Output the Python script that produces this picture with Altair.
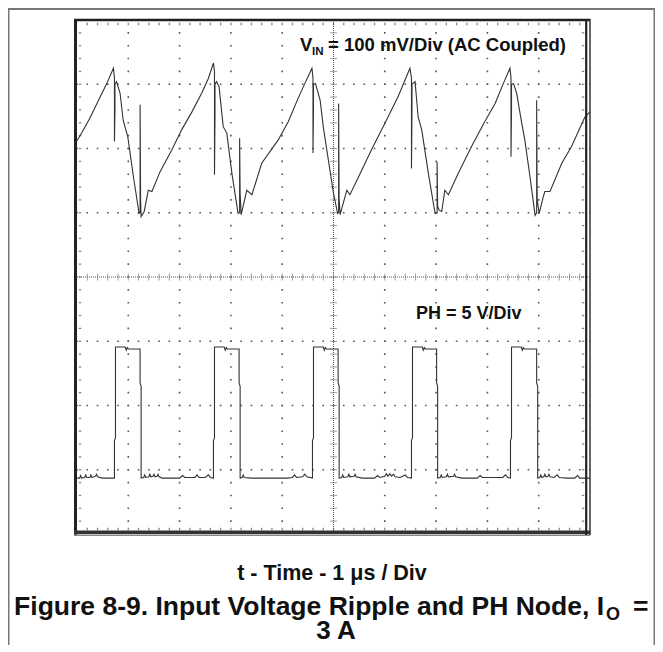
import altair as alt
import pandas as pd

# ---------------- data (time in µs, 1 µs/div; vertical in screen divisions, centre = 0)
vin_trace = [
    (0.00, 2.12), (0.09, 2.24), (0.25, 2.47), (0.42, 2.75), (0.58, 3.01), (0.71, 3.25),
    (0.73, 3.10), (0.73, 2.11), (0.74, 2.60), (0.74, 3.00), (0.77, 3.04),
    (0.84, 2.86), (0.90, 2.44), (0.99, 2.18), (1.10, 1.56), (1.21, 0.99),
    (1.23, 1.00), (1.23, 2.68), (1.24, 1.20), (1.25, 0.94),
    (1.31, 1.02), (1.39, 1.35), (1.46, 1.33), (1.62, 1.64), (1.85, 1.98), (2.04, 2.29),
    (2.24, 2.57), (2.43, 2.86), (2.56, 3.09), (2.66, 3.33),
    (2.68, 3.20), (2.68, 1.59), (2.69, 2.50), (2.69, 3.00), (2.72, 3.04),
    (2.77, 2.96), (2.85, 2.34), (2.92, 2.24), (3.02, 1.61), (3.14, 0.99),
    (3.17, 1.00), (3.17, 2.16), (3.18, 1.30), (3.20, 0.97),
    (3.31, 1.35), (3.41, 1.28), (3.60, 1.77), (3.92, 2.13), (4.12, 2.42), (4.31, 2.78),
    (4.44, 3.01), (4.58, 3.25),
    (4.60, 3.10), (4.60, 1.93), (4.61, 2.60), (4.61, 3.00), (4.65, 3.01),
    (4.74, 2.75), (4.80, 2.34), (4.90, 1.82), (5.00, 1.30), (5.08, 0.99),
    (5.10, 1.00), (5.10, 2.70), (5.11, 1.20), (5.13, 0.97),
    (5.19, 1.15), (5.26, 1.35), (5.32, 1.28), (5.52, 1.61), (5.74, 1.98), (6.00, 2.39),
    (6.26, 2.81), (6.49, 3.25),
    (6.52, 3.10), (6.52, 1.69), (6.53, 2.60), (6.53, 3.00), (6.59, 3.04),
    (6.65, 2.49), (6.72, 2.29), (6.85, 1.61), (6.98, 0.99),
    (7.02, 1.00), (7.02, 1.79), (7.03, 1.10), (7.06, 1.04),
    (7.11, 1.02), (7.17, 1.35), (7.24, 1.28), (7.43, 1.61), (7.69, 2.03), (7.95, 2.42),
    (8.15, 2.70), (8.31, 3.01), (8.44, 3.25),
    (8.46, 3.10), (8.46, 1.87), (8.47, 2.60), (8.47, 3.00), (8.51, 3.01),
    (8.57, 2.86), (8.67, 2.39), (8.73, 2.13), (8.83, 1.56), (8.93, 0.96),
    (8.96, 1.00), (8.96, 2.75), (8.97, 1.20), (9.01, 0.99),
    (9.09, 1.25), (9.12, 1.33), (9.22, 1.33), (9.45, 1.77), (9.64, 2.03), (9.90, 2.49),
    (10.0, 2.57),
]

ph_trace = [
    (0.00, -3.13), (0.05, -3.13), (0.07, -3.09), (0.09, -3.13), (0.15, -3.12), (0.17, -3.08),
    (0.19, -3.12), (0.25, -3.12), (0.27, -3.08), (0.29, -3.12), (0.36, -3.10), (0.38, -3.07),
    (0.40, -3.11), (0.50, -3.13), (0.73, -3.13),
    (0.73, -2.55), (0.75, -2.50), (0.75, -1.09),
    (0.94, -1.09), (0.96, -1.14), (0.98, -1.10), (1.00, -1.12), (1.23, -1.12),
    (1.23, -1.65), (1.25, -1.70), (1.25, -3.13),
    (1.30, -3.12), (1.32, -3.08), (1.34, -3.12), (1.40, -3.11), (1.42, -3.07), (1.44, -3.11),
    (1.48, -3.10), (1.50, -3.07), (1.52, -3.11), (1.56, -3.10), (1.58, -3.07), (1.60, -3.11),
    (1.66, -3.13), (2.00, -3.13), (2.06, -3.09), (2.10, -3.12), (2.30, -3.12), (2.34, -3.08),
    (2.38, -3.12), (2.50, -3.12), (2.56, -3.08), (2.60, -3.12), (2.66, -3.13),
    (2.66, -2.55), (2.68, -2.50), (2.68, -1.09),
    (2.87, -1.09), (2.89, -1.14), (2.91, -1.10), (2.93, -1.12), (3.16, -1.12),
    (3.16, -1.65), (3.18, -1.70), (3.18, -3.13),
    (3.22, -3.12), (3.24, -3.08), (3.26, -3.12), (3.40, -3.13), (3.90, -3.13), (4.10, -3.13),
    (4.20, -3.12), (4.24, -3.08), (4.28, -3.12), (4.40, -3.11), (4.44, -3.07), (4.48, -3.11),
    (4.59, -3.13),
    (4.59, -2.55), (4.61, -2.50), (4.61, -1.09),
    (4.80, -1.09), (4.82, -1.14), (4.84, -1.10), (4.86, -1.12), (5.09, -1.12),
    (5.09, -1.65), (5.11, -1.70), (5.11, -3.13),
    (5.16, -3.12), (5.18, -3.08), (5.20, -3.12), (5.28, -3.11), (5.30, -3.07), (5.32, -3.11),
    (5.40, -3.10), (5.42, -3.07), (5.44, -3.11), (5.56, -3.13), (5.80, -3.13), (5.86, -3.09),
    (5.90, -3.12), (6.00, -3.10), (6.03, -3.06), (6.06, -3.10), (6.10, -3.06), (6.13, -3.10),
    (6.17, -3.07), (6.20, -3.11), (6.30, -3.12), (6.40, -3.08), (6.44, -3.12), (6.52, -3.13),
    (6.52, -2.55), (6.54, -2.50), (6.54, -1.09),
    (6.73, -1.09), (6.75, -1.14), (6.77, -1.10), (6.79, -1.12), (7.01, -1.12),
    (7.01, -1.65), (7.03, -1.70), (7.03, -3.13),
    (7.08, -3.12), (7.10, -3.08), (7.12, -3.12), (7.20, -3.11), (7.22, -3.07), (7.24, -3.11),
    (7.34, -3.10), (7.36, -3.07), (7.38, -3.11), (7.50, -3.13), (7.80, -3.13), (7.86, -3.09),
    (7.90, -3.12), (8.10, -3.12), (8.30, -3.12), (8.35, -3.08), (8.40, -3.12), (8.45, -3.13),
    (8.45, -2.55), (8.47, -2.50), (8.47, -1.09),
    (8.66, -1.09), (8.68, -1.14), (8.70, -1.10), (8.72, -1.12), (8.96, -1.12),
    (8.96, -1.65), (8.98, -1.70), (8.98, -3.13),
    (9.02, -3.12), (9.04, -3.08), (9.06, -3.12), (9.10, -3.11), (9.12, -3.07), (9.14, -3.11),
    (9.18, -3.10), (9.20, -3.07), (9.22, -3.11), (9.30, -3.12), (9.36, -3.08), (9.40, -3.12),
    (9.56, -3.13), (9.70, -3.13), (9.76, -3.09), (9.80, -3.13), (10.0, -3.13),
]

grid_t = [1, 2, 3, 4, 6, 7, 8, 9]
grid_v = [-3, -2, -1, 1, 2, 3]
minor_t = [round(0.2 * i, 1) for i in range(1, 50)]
minor_v = [round(-4 + 0.2 * i, 1) for i in range(1, 40)]

# ---------------- layout
W, H = 513, 514
PAD_L, PAD_T, PAD_R, PAD_B = 69, 12, 65, 111
TOTAL_W = PAD_L + W + PAD_R
TOTAL_H = PAD_T + H + PAD_B
FONT = "Liberation Sans"
INK = "#333333"

xs = alt.Scale(domain=[0, 10], nice=False, zero=False)
ys = alt.Scale(domain=[-4, 4], nice=False, zero=False)


def X(f):
    return alt.X(f, type="quantitative", scale=xs, axis=None)


def Y(f):
    return alt.Y(f, type="quantitative", scale=ys, axis=None)


vin_df = pd.DataFrame(vin_trace, columns=["t", "v"]).reset_index()
ph_df = pd.DataFrame(ph_trace, columns=["t", "v"]).reset_index()

one = pd.DataFrame({"k": [0]})

hgrid = alt.Chart(pd.DataFrame({"v": grid_v})).mark_rule(
    color="#555555", strokeWidth=1.6, strokeDash=[1.6, 8.66], strokeDashOffset=0.8
).encode(y=Y("v"), x=alt.value(0), x2=alt.value(W))

vgrid = alt.Chart(pd.DataFrame({"t": grid_t})).mark_rule(
    color="#555555", strokeWidth=1.6, strokeDash=[1.6, 11.25], strokeDashOffset=0.8
).encode(x=X("t"), y=alt.value(0), y2=alt.value(H))

hcenter = alt.Chart(pd.DataFrame({"v": [0]})).mark_rule(
    color="#555555", strokeWidth=1, strokeDash=[1, 1]
).encode(y=Y("v"), x=alt.value(0), x2=alt.value(W))

vcenter = alt.Chart(pd.DataFrame({"t": [5]})).mark_rule(
    color="#555555", strokeWidth=1, strokeDash=[1, 1]
).encode(x=X("t"), y=alt.value(0), y2=alt.value(H))

hticks = alt.Chart(pd.DataFrame({"t": minor_t})).mark_tick(
    orient="vertical", size=7, thickness=1, color="#777777"
).encode(x=X("t"), y=alt.value(H / 2))

vticks = alt.Chart(pd.DataFrame({"v": minor_v})).mark_tick(
    orient="horizontal", size=7, thickness=1, color="#777777"
).encode(y=Y("v"), x=alt.value(W / 2))

top_ticks = alt.Chart(pd.DataFrame({"t": minor_t})).mark_tick(
    orient="vertical", size=2.5, thickness=1.3, color="#555555"
).encode(x=X("t"), y=alt.value(4))

bot_ticks = alt.Chart(pd.DataFrame({"t": minor_t})).mark_tick(
    orient="vertical", size=2.5, thickness=1.3, color="#555555"
).encode(x=X("t"), y=alt.value(H - 5))

left_ticks = alt.Chart(pd.DataFrame({"v": minor_v})).mark_tick(
    orient="horizontal", size=2.5, thickness=1.3, color="#555555"
).encode(y=Y("v"), x=alt.value(3))

right_ticks = alt.Chart(pd.DataFrame({"v": minor_v})).mark_tick(
    orient="horizontal", size=2.5, thickness=1.3, color="#555555"
).encode(y=Y("v"), x=alt.value(W - 7))

vin_line = alt.Chart(vin_df).mark_line(color=INK, strokeWidth=1.1).encode(
    x=X("t"), y=Y("v"), order="index:Q"
)
ph_line = alt.Chart(ph_df).mark_line(color=INK, strokeWidth=1.1).encode(
    x=X("t"), y=Y("v"), order="index:Q"
)


def hline(y, x1, x2, w, c):
    return alt.Chart(one).mark_rule(color=c, strokeWidth=w).encode(
        y=alt.value(y), x=alt.value(x1), x2=alt.value(x2)
    )


def vline(x, y1, y2, w, c):
    return alt.Chart(one).mark_rule(color=c, strokeWidth=w).encode(
        x=alt.value(x), y=alt.value(y1), y2=alt.value(y2)
    )


frame = [
    hline(0, -3, W, 2.5, "#222222"),
    vline(-1.5, -1, H + 2, 3, "#222222"),
    hline(H - 1.7, -3, W, 3.6, "#333333"),
    hline(H + 1.3, -3, W, 1.5, "#888888"),
    vline(W - 3.8, -1, H + 1, 2.2, "#222222"),
    vline(W, -1, H + 1, 1.5, "#333333"),
    # outer figure border
    hline(-PAD_T + 1, -PAD_L, TOTAL_W - PAD_L, 2, "#777777"),
    vline(-PAD_L + 0.75, -PAD_T, TOTAL_H - PAD_T, 1.5, "#777777"),
    vline(TOTAL_W - PAD_L - 0.75, -PAD_T, TOTAL_H - PAD_T, 1.5, "#777777"),
]


def txt(s, x, y, size, align="left"):
    return alt.Chart(one).mark_text(
        text=s, font=FONT, fontWeight="bold", fontSize=size, align=align,
        baseline="alphabetic", color="#111111"
    ).encode(x=alt.value(x), y=alt.value(y))


texts = [
    txt("V", 223, 31, 18.5),
    txt("IN", 235, 35, 11.5),
    txt("= 100 mV/Div (AC Coupled)", 251, 31, 18.5),
    txt("PH = 5 V/Div", 339, 299, 18),
    txt("t - Time - 1 \u03bcs / Div", 255, 560, 21.5, "center"),
    txt("Figure 8-9. Input Voltage Ripple and PH Node, I", 527, 595, 26.5, "right"),
    txt("O", 529, 600, 18),
    txt("=", 556, 595, 26.5),
    txt("3 A", 259, 619, 26, "center"),
]

layers = [hgrid, vgrid, hcenter, vcenter, hticks, vticks, top_ticks, bot_ticks,
          left_ticks, right_ticks, vin_line, ph_line] + frame + texts

chart = alt.layer(*layers).properties(
    width=W, height=H,
    autosize=alt.AutoSizeParams(type="none"),
    padding={"left": PAD_L, "top": PAD_T, "right": PAD_R, "bottom": PAD_B},
    background="white",
).configure_view(stroke=None)

chart.save("out.html", embed_options={"renderer": "svg", "actions": False})
